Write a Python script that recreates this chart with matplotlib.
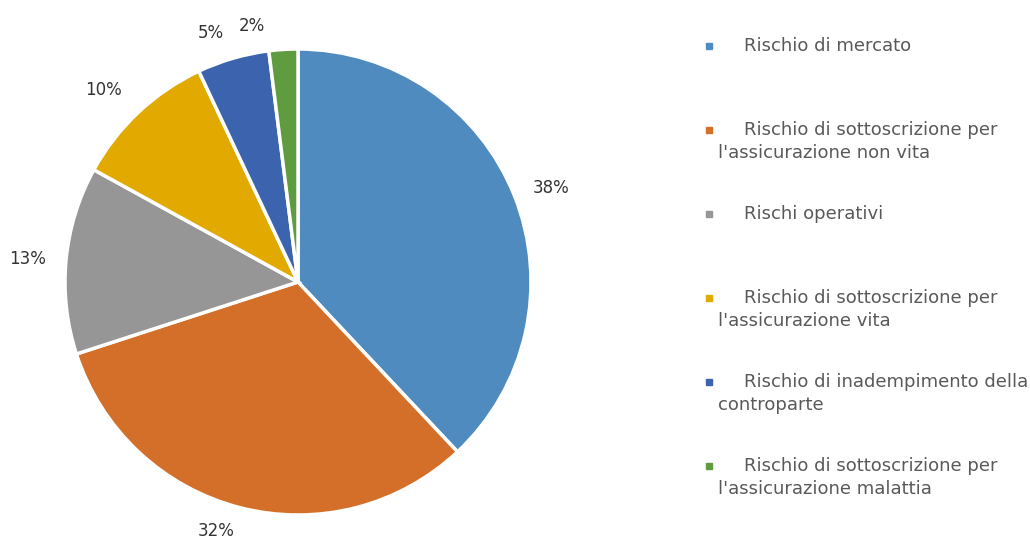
import matplotlib.pyplot as plt
from matplotlib.patches import Rectangle

categories = ["Rischio di mercato",
              "Rischio di sottoscrizione per\nl'assicurazione non vita",
              "Rischi operativi",
              "Rischio di sottoscrizione per\nl'assicurazione vita",
              "Rischio di inadempimento della\ncontroparte",
              "Rischio di sottoscrizione per\nl'assicurazione malattia"]
values = [38, 32, 13, 10, 5, 2]
colors = ["#4F8BBF", "#D46F29", "#969696", "#E2AA00", "#3C63AE", "#5F9B3F"]

W, H = 1030, 542
fig = plt.figure(figsize=(10.3, 5.42), dpi=100)

# pie axes: center (298, 282) px from top, radius 233 px
cx, cy, r = 298, H - 282, 233
ax = fig.add_axes([(cx - r) / W, (cy - r) / H, 2 * r / W, 2 * r / H])
wedges, texts = ax.pie(values, colors=colors, startangle=90, counterclock=False,
                       radius=1, labels=[f"{v}%" for v in values], labeldistance=1.13,
                       wedgeprops=dict(edgecolor="white", linewidth=2.5),
                       textprops=dict(fontsize=12, color="#333333"))
# label spots as in the original (pixel positions, top-left origin)
label_px = [(551, 188), (216, 531), (28, 259), (103, 90), (211, 33), (252, 26)]
for t, (px, py) in zip(texts, label_px):
    t.set_position(((px - 298) / r, (282 - py) / r))
    t.set_ha("center")
    t.set_va("center")
ax.set_xlim(-1, 1)
ax.set_ylim(-1, 1)
ax.set_aspect("equal")

# legend drawn by hand
y0, step, lh = 46, 84, 23
for i, (lab, col) in enumerate(zip(categories, colors)):
    y = y0 + i * step
    fig.add_artist(Rectangle((706 / W, (H - y - 3) / H), 6 / W, 6 / H,
                             transform=fig.transFigure, color=col))
    lines = lab.split("\n")
    fig.text(744 / W, (H - y) / H, lines[0], fontsize=13, color="#595959", va="center")
    if len(lines) > 1:
        fig.text(718 / W, (H - y - lh) / H, lines[1], fontsize=13, color="#595959", va="center")

fig.savefig("out.png", dpi=100, facecolor="white")
